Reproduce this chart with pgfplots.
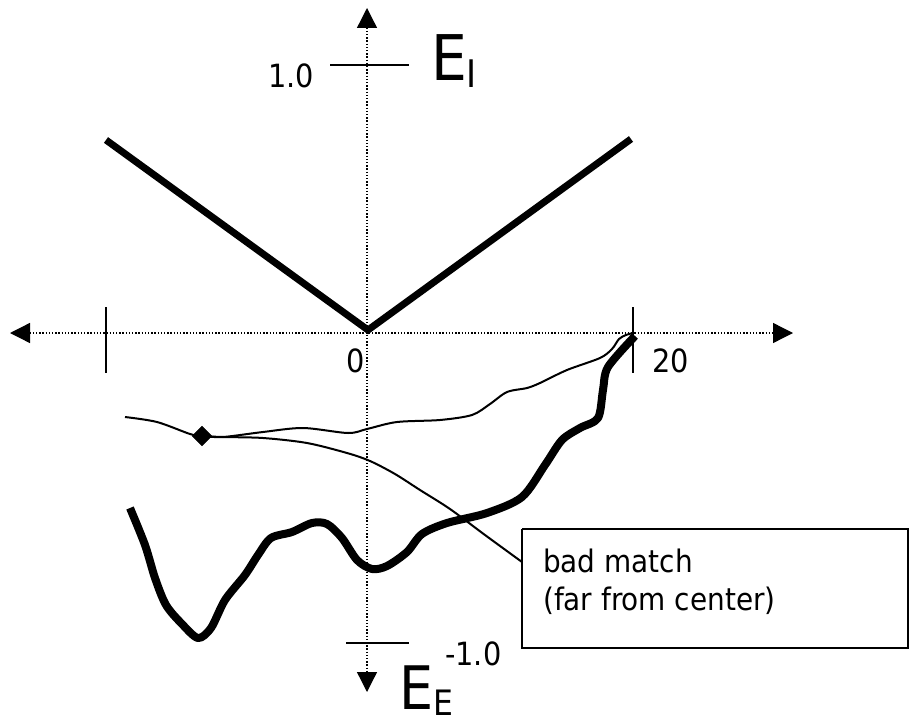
\documentclass[border=0pt]{standalone}
\usepackage{fontspec}
\setmainfont{DejaVu Sans Condensed}
\usepackage{pgfplots}
\pgfplotsset{compat=1.18}
\usetikzlibrary{arrows.meta}
\begin{document}
\begin{tikzpicture}
\begin{axis}[name=ax, x=1pt, y=1pt, y dir=reverse,
  xmin=0, xmax=915, ymin=0, ymax=725,
  hide axis, clip=false]
% axes (dotted, arrows at both ends)
\addplot[line width=1.3pt, dash pattern=on 1.3pt off 1.9pt,
  {Triangle[length=20pt,width=20pt]}-{Triangle[length=20pt,width=20pt]}]
  coordinates {(10,333) (793,333)};
\addplot[line width=1.3pt, dash pattern=on 1.3pt off 1.9pt,
  {Triangle[length=20pt,width=20pt]}-{Triangle[length=20pt,width=20pt]}]
  coordinates {(367,8) (367,692)};
% ticks
\addplot[line width=1.8pt] coordinates {(106,307) (106,373)};
\addplot[line width=1.8pt] coordinates {(633,307) (633,373)};
\addplot[line width=1.8pt] coordinates {(330,65) (409,65)};
\addplot[line width=1.8pt] coordinates {(346,643) (409,643)};
% V shape
\addplot[line width=7pt, line join=miter, line cap=butt]
  coordinates {(106,140) (368,330) (631,139)};
% thin upper curve
\addplot[line width=2pt, smooth, tension=0.5]
  coordinates {(202,436) (223,437) (263,432) (303,428) (348,433) (367,429)
  (397,422) (440,420) (472,415) (490,404) (507,392) (527,388) (540,383)
  (567,370) (600,358) (612,349) (619,339) (626,335) (633,333)};
% thin lower curve
\addplot[line width=2pt, smooth, tension=0.5]
  coordinates {(125,417) (157,422) (190,434) (202,436) (223,437) (263,438)
  (307,443) (347,453) (370,461) (395,474) (420,490) (450,509) (485,535) (522,562)};
% diamond mark
\addplot[only marks, mark=square*, mark size=7pt, mark options={rotate=45, fill=black}]
  coordinates {(202,436)};
% thick lower curve
\addplot[line width=8pt, smooth, tension=0.5, line join=round]
  coordinates {(130,508) (145,545) (155,578) (166,605) (182,624)
  (198,638) (211,628) (225,600) (245,575) (258,555) (271,538)
  (292,532) (312,523) (327,524) (342,538) (357,560) (372,569)
  (387,566) (407,552) (422,534) (447,523) (487,513)
  (522,497) (545,465) (562,440) (580,428) (598,418) (603,390)
  (608,367) (635,336)};
% annotation box
\addplot[line width=1.5pt] coordinates {(522,529) (908,529) (908,648) (522,648) (522,529)};
\node[anchor=base west, inner sep=0pt, font=\fontsize{31}{37}\selectfont] at (axis cs:543,572) {bad match};
\node[anchor=base west, inner sep=0pt, font=\fontsize{31}{37}\selectfont] at (axis cs:543,610) {(far from center)};
% labels
\node[anchor=base east, inner sep=0pt, font=\fontsize{32}{38}\selectfont] at (axis cs:365,372) {0};
\node[anchor=base west, inner sep=0pt, font=\fontsize{32}{38}\selectfont] at (axis cs:652,372) {20};
\node[anchor=base east, inner sep=0pt, font=\fontsize{32}{38}\selectfont] at (axis cs:314,88) {1.0};
\node[anchor=base west, inner sep=0pt, font=\fontsize{32}{38}\selectfont] at (axis cs:445,665) {-1.0};
\node[anchor=base west, inner sep=0pt, font=\fontsize{63}{70}\selectfont] at (axis cs:431,80) {E};
\node[anchor=base west, inner sep=0pt, font=\fontsize{38}{44}\selectfont] at (axis cs:466,88) {I};
\node[anchor=base west, inner sep=0pt, font=\fontsize{60}{68}\selectfont] at (axis cs:399,709) {E};
\node[anchor=base west, inner sep=0pt, font=\fontsize{35}{41}\selectfont] at (axis cs:433,715) {E};
\end{axis}
\pgfresetboundingbox
\path[use as bounding box] (ax.south west) rectangle (ax.north east);
\end{tikzpicture}
\end{document}
